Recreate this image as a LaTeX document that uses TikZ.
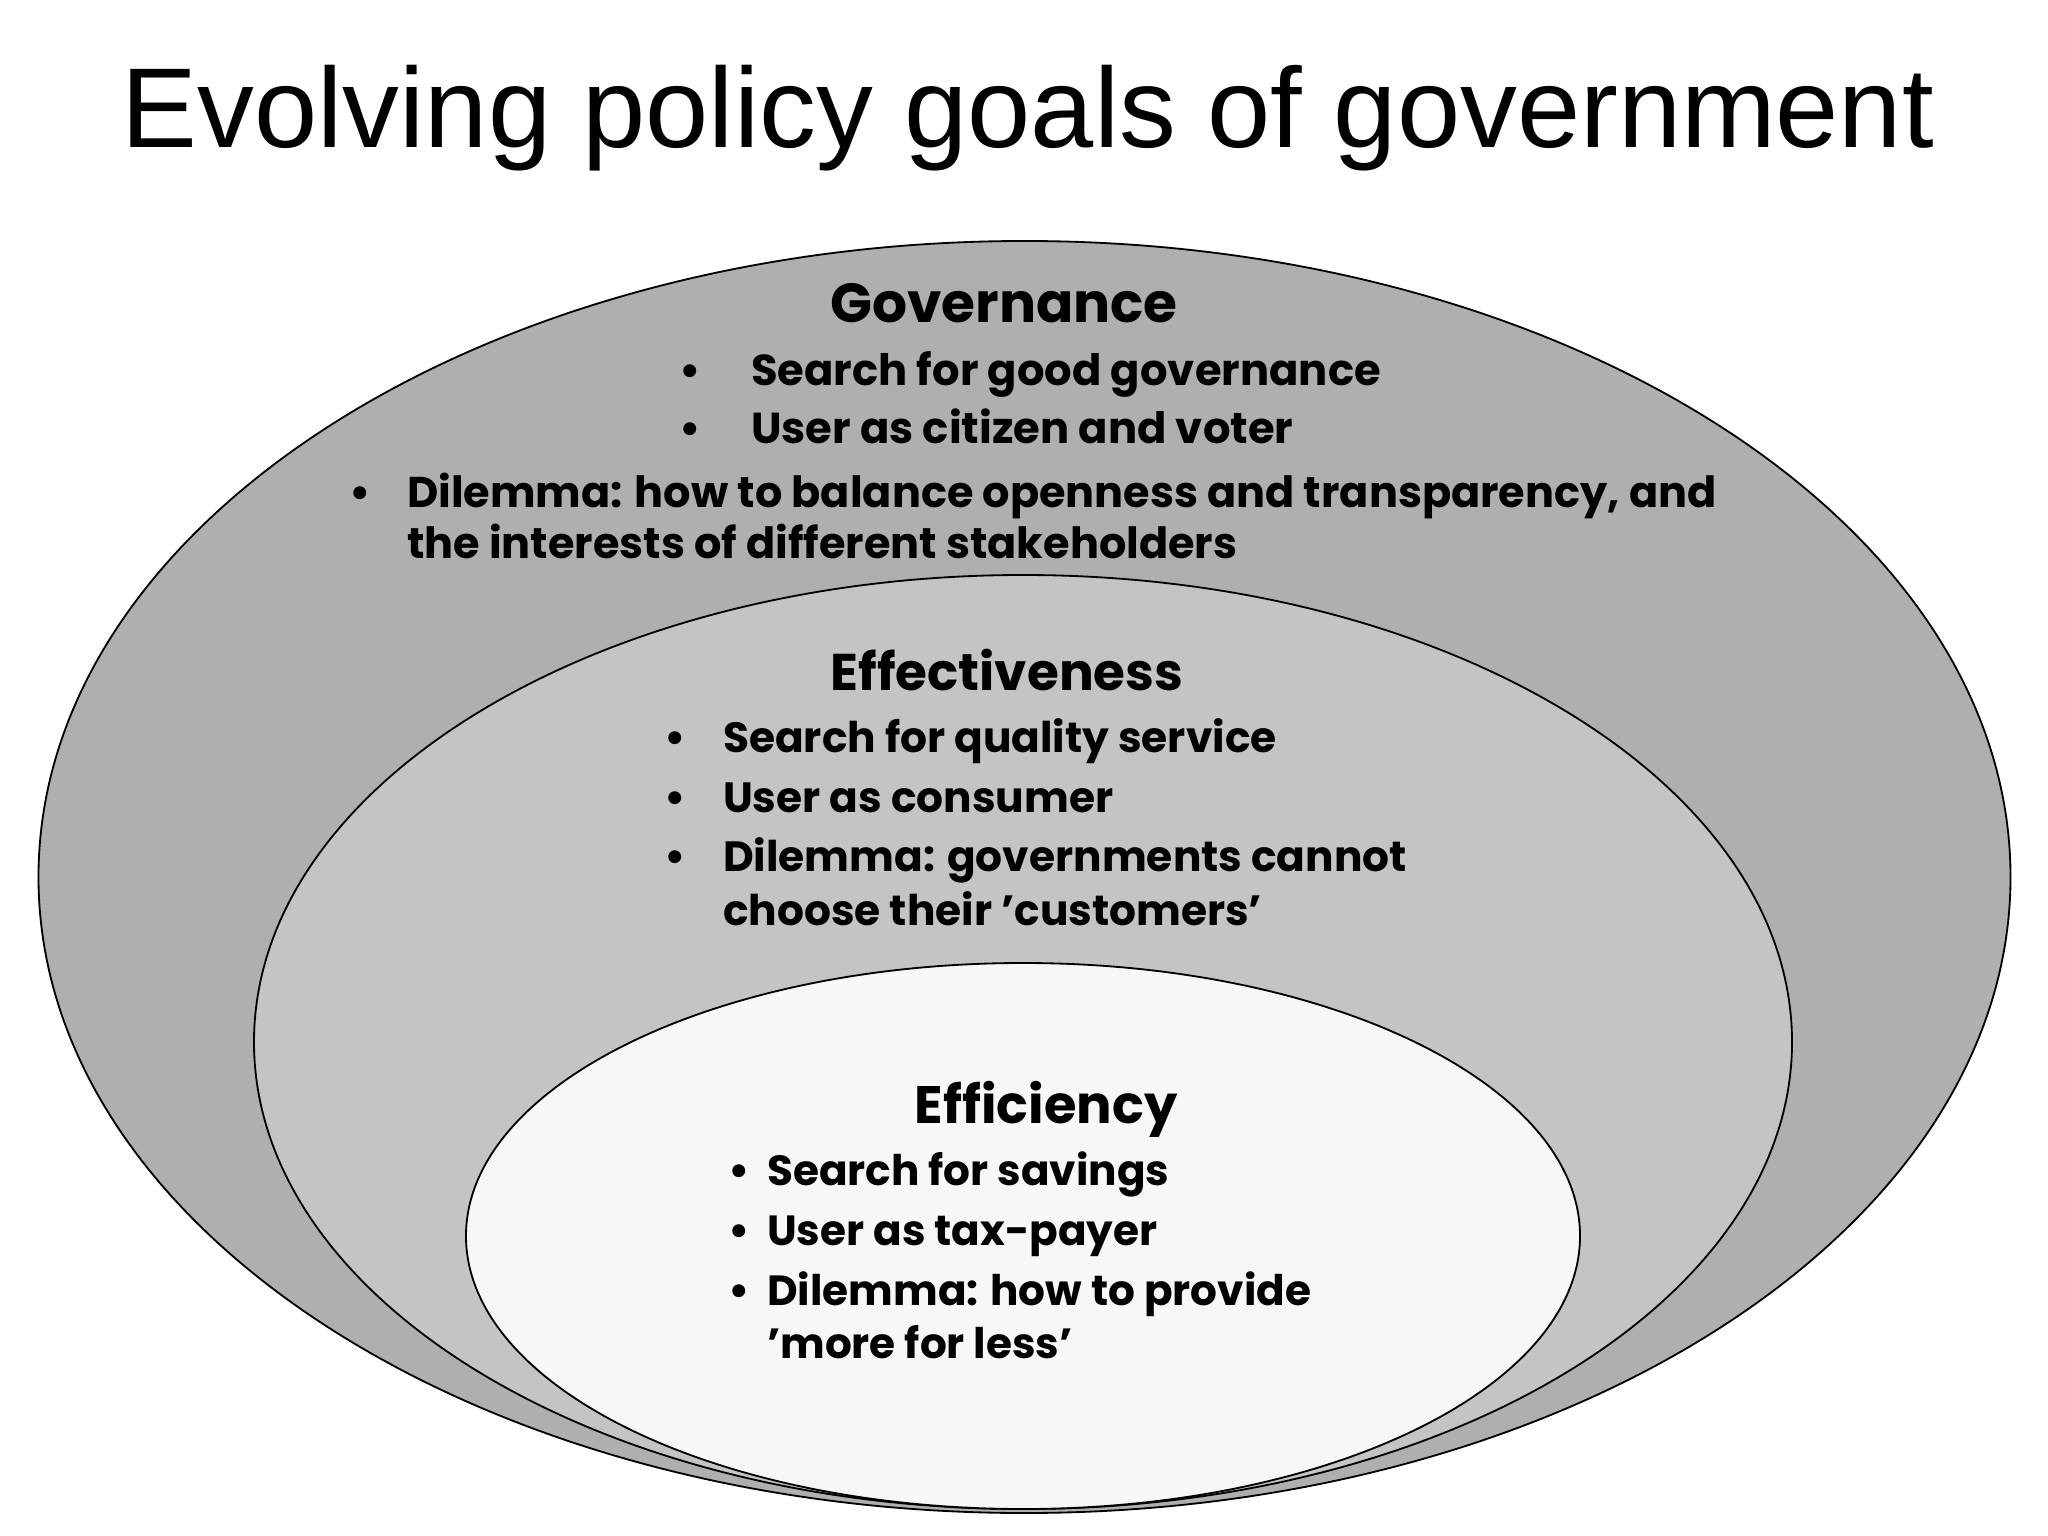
\documentclass[tikz,border=0pt]{standalone}
\usepackage{fontspec}
\setmainfont{Poppins}
\newfontfamily\titlefont{Liberation Sans}
\definecolor{outerfill}{HTML}{AFAFAF}
\definecolor{midfill}{HTML}{C4C4C4}
\definecolor{innerfill}{HTML}{F7F7F7}
\newcommand\headfont[1]{\bfseries\fontsize{#1}{90pt}\selectfont}
\newcommand\bodyfont[1]{\bfseries\fontsize{#1}{72pt}\selectfont}
\begin{document}
\begin{tikzpicture}[x=0.5mm,y=-0.5mm,
  ring/.style={draw=black,line width=2.6pt},
  head/.style={font=\headfont{#1},anchor=base,inner sep=0pt},
  body/.style={font=\bodyfont{#1},anchor=base west,inner sep=0pt},
  bul/.style={font=\bodyfont{61pt},anchor=base,inner sep=0pt}]
\useasboundingbox (0,0) rectangle (2048,1536);
\fill[white] (0,0) rectangle (2048,1536);
% ellipses
\draw[ring,fill=outerfill] (1024.5,877) ellipse [x radius=493mm, y radius=318mm];
\draw[ring,fill=midfill] (1023,1042) ellipse [x radius=384.5mm, y radius=233.5mm];
\draw[ring,fill=innerfill] (1023,1236) ellipse [x radius=278.5mm, y radius=136.5mm];
% title
\node[font=\titlefont\fontsize{161.6pt}{180pt}\selectfont,anchor=base,inner sep=0pt] (title) at (1028,148) {Evolving policy goals of government};
% governance
\node[head=78.3pt] (gov) at (1004,322) {Governance};
\node[bul] (gb1) at (690,385) {\textbullet};
\node[body=61.6pt] (g1) at (751,385) {Search for good governance};
\node[bul] (gb2) at (690,443) {\textbullet};
\node[body=61.6pt] (g2) at (751,443) {User as citizen and voter};
\node[bul] (gb3) at (360,507) {\textbullet};
\node[body=61.2pt] (g3) at (407,507) {Dilemma: how to balance openness and transparency, and};
\node[body=61.2pt] (g4) at (407,558) {the interests of different stakeholders};
% effectiveness
\node[head=73.5pt] (eff) at (1007,690) {Effectiveness};
\node[bul] (eb1) at (675,752) {\textbullet};
\node[body=60.2pt] (e1) at (723,752) {Search for quality service};
\node[bul] (eb2) at (675,812) {\textbullet};
\node[body=60.2pt] (e2) at (723,812) {User as consumer};
\node[bul] (eb3) at (675,871) {\textbullet};
\node[body=60.2pt] (e3) at (723,871) {Dilemma: governments cannot};
\node[body=60.2pt] (e4) at (723,925) {choose their ’customers’};
% efficiency
\node[head=75pt] (efc) at (1046,1123) {Efficiency};
\node[bul] (fb1) at (739,1185) {\textbullet};
\node[body=60pt] (f1) at (767,1185) {Search for savings};
\node[bul] (fb2) at (739,1245) {\textbullet};
\node[body=60pt] (f2) at (767,1245) {User as tax-payer};
\node[bul] (fb3) at (739,1305) {\textbullet};
\node[body=60pt] (f3) at (767,1305) {Dilemma: how to provide};
\node[body=60pt] (f4) at (767,1358) {’more for less’};
\end{tikzpicture}
\end{document}
